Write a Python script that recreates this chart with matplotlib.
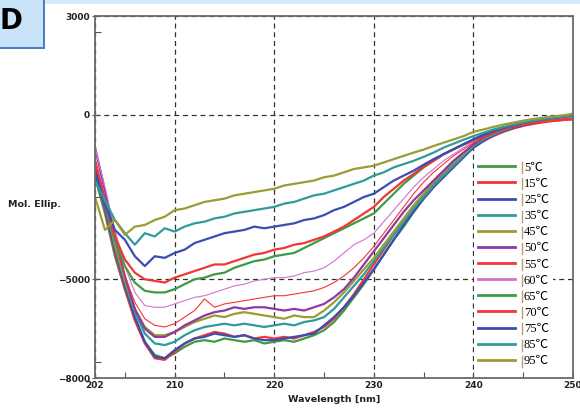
import matplotlib
matplotlib.use("Agg")
import matplotlib.pyplot as plt
from matplotlib.lines import Line2D
from matplotlib.patches import Rectangle
from matplotlib.font_manager import FontProperties
import numpy as np

wavelength = list(range(202, 251))

t5 = [-1900,-3000,-4300,-5300,-6200,-6900,-7300,-7400,-7250,-7050,-6900,-6850,-6900,-6800,-6850,-6900,-6850,-6950,-6900,-6850,-6900,-6800,-6700,-6550,-6300,-5950,-5550,-5150,-4700,-4250,-3800,-3400,-2950,-2550,-2200,-1850,-1550,-1250,-950,-750,-600,-480,-380,-300,-230,-170,-120,-80,-40]
t15 = [-1700,-2900,-4200,-5300,-6250,-6950,-7400,-7450,-7200,-6950,-6800,-6700,-6600,-6650,-6750,-6700,-6800,-6750,-6800,-6750,-6800,-6700,-6600,-6450,-6200,-5850,-5450,-5000,-4550,-4100,-3650,-3250,-2850,-2450,-2100,-1800,-1500,-1250,-1000,-800,-650,-520,-420,-340,-280,-230,-190,-160,-130]
t25 = [-1800,-2800,-4100,-5200,-6150,-6900,-7350,-7400,-7150,-6950,-6800,-6750,-6650,-6700,-6750,-6700,-6800,-6850,-6850,-6800,-6750,-6700,-6650,-6400,-6150,-5850,-5500,-5100,-4700,-4250,-3800,-3350,-2950,-2550,-2200,-1900,-1600,-1300,-1000,-800,-620,-500,-400,-320,-250,-190,-140,-100,-60]
t35 = [-1600,-2700,-4000,-5100,-6000,-6650,-6950,-7000,-6900,-6700,-6550,-6450,-6400,-6350,-6400,-6350,-6400,-6450,-6400,-6350,-6400,-6300,-6250,-6150,-5900,-5550,-5200,-4850,-4450,-4050,-3650,-3250,-2850,-2500,-2150,-1850,-1550,-1250,-950,-750,-600,-470,-370,-290,-220,-160,-110,-70,-30]
t45 = [-1500,-2600,-3900,-5000,-5900,-6450,-6700,-6700,-6600,-6450,-6300,-6200,-6100,-6150,-6050,-6000,-6050,-6100,-6150,-6200,-6100,-6150,-6150,-5950,-5700,-5400,-5050,-4700,-4350,-3950,-3550,-3150,-2750,-2400,-2050,-1750,-1450,-1200,-900,-700,-560,-440,-340,-260,-200,-150,-100,-60,-20]
t50 = [-1000,-2300,-3700,-4900,-5900,-6500,-6750,-6750,-6600,-6400,-6250,-6100,-6000,-5950,-5850,-5900,-5850,-5850,-5900,-5950,-5900,-5950,-5850,-5750,-5550,-5300,-4950,-4550,-4150,-3750,-3350,-2950,-2600,-2300,-2000,-1700,-1400,-1150,-900,-700,-550,-430,-340,-270,-210,-160,-120,-80,-50]
t55 = [-1300,-2500,-3800,-4900,-5700,-6200,-6400,-6450,-6350,-6150,-5950,-5600,-5850,-5750,-5700,-5650,-5600,-5550,-5500,-5500,-5450,-5400,-5350,-5250,-5100,-4900,-4650,-4350,-4000,-3600,-3200,-2800,-2400,-2050,-1750,-1500,-1250,-1050,-850,-700,-560,-450,-360,-290,-230,-180,-140,-110,-90]
t60 = [-1000,-2200,-3500,-4600,-5400,-5800,-5850,-5850,-5750,-5650,-5550,-5500,-5400,-5300,-5200,-5150,-5050,-5000,-4950,-4950,-4900,-4800,-4750,-4650,-4450,-4200,-3950,-3800,-3600,-3250,-2900,-2550,-2200,-1900,-1650,-1400,-1200,-1000,-800,-650,-520,-420,-340,-270,-210,-170,-130,-100,-70]
t65 = [-1600,-2700,-3800,-4600,-5100,-5350,-5400,-5400,-5300,-5150,-5000,-4950,-4850,-4800,-4650,-4550,-4450,-4400,-4300,-4250,-4200,-4050,-3900,-3750,-3600,-3450,-3300,-3150,-3000,-2700,-2400,-2100,-1850,-1600,-1400,-1200,-1050,-900,-750,-600,-500,-400,-320,-250,-200,-150,-110,-70,-30]
t70 = [-1500,-2600,-3700,-4400,-4800,-5000,-5050,-5100,-4950,-4850,-4750,-4650,-4550,-4550,-4450,-4350,-4250,-4200,-4100,-4050,-3950,-3900,-3800,-3700,-3550,-3400,-3200,-3000,-2800,-2500,-2250,-2000,-1800,-1580,-1400,-1200,-1050,-900,-780,-650,-540,-440,-360,-300,-250,-210,-180,-160,-140]
t75 = [-1700,-2700,-3500,-3800,-4300,-4600,-4300,-4350,-4200,-4100,-3900,-3800,-3700,-3600,-3550,-3500,-3400,-3450,-3400,-3350,-3300,-3200,-3150,-3050,-2900,-2800,-2650,-2500,-2400,-2200,-2000,-1850,-1700,-1520,-1350,-1200,-1050,-900,-750,-620,-500,-400,-320,-250,-190,-140,-100,-60,-20]
t85 = [-2000,-2600,-3200,-3600,-3950,-3600,-3700,-3450,-3550,-3400,-3300,-3250,-3150,-3100,-3000,-2950,-2900,-2850,-2800,-2700,-2650,-2550,-2450,-2400,-2300,-2200,-2100,-2000,-1850,-1750,-1600,-1500,-1400,-1280,-1150,-1000,-880,-760,-650,-550,-450,-370,-300,-240,-180,-130,-90,-50,-10]
t95 = [-2500,-3500,-3200,-3650,-3400,-3350,-3200,-3100,-2900,-2850,-2750,-2650,-2600,-2550,-2450,-2400,-2350,-2300,-2250,-2150,-2100,-2050,-2000,-1900,-1850,-1750,-1650,-1600,-1550,-1450,-1350,-1250,-1150,-1060,-950,-850,-750,-650,-520,-450,-370,-300,-240,-180,-130,-90,-50,-20,30]

labels = ["5℃", "15℃", "25℃", "35℃", "45℃", "50℃", "55℃", "60℃",
          "65℃", "70℃", "75℃", "85℃", "95℃"]
series = [t5, t15, t25, t35, t45, t50, t55, t60, t65, t70, t75, t85, t95]

GREEN = "#3f9a45"
RED = "#f23535"
BLUE = "#3b4db3"
TEAL = "#2f9b9b"
OLIVE = "#9c9c34"
PURPLE = "#8e3aa3"
PINK = "#d272d2"
colors = [GREEN, RED, BLUE, TEAL, OLIVE, PURPLE, RED, PINK,
          GREEN, RED, BLUE, TEAL, OLIVE]
widths = [1.6, 1.6, 1.6, 1.6, 1.6, 1.6, 0.8, 0.8, 1.6, 1.6, 1.6, 1.6, 1.6]

W, H = 580, 411
fig = plt.figure(figsize=(W / 100, H / 100), dpi=100)
fig.patch.set_facecolor("white")

# header decorations
fig.patches.append(Rectangle((43 / W, 1 - 4 / H), 1, 4 / H, transform=fig.transFigure,
                             facecolor="#d3eafa", edgecolor="none", zorder=0))
fig.patches.append(Rectangle((-0.01, 1 - 48 / H), 43.5 / W + 0.01, 48 / H + 0.01,
                             transform=fig.transFigure, facecolor="#c9e4f8",
                             edgecolor="#4a78c8", linewidth=1.4, zorder=1))
fig.text(0 / W, 1 - 29 / H, "D", fontsize=20, fontweight="bold", family="DejaVu Sans",
         ha="left", va="baseline", color="black")

ax = fig.add_axes([95 / W, 1 - 378 / H, (573 - 95) / W, (378 - 16) / H])
for s, c, lw in zip(series, colors, widths):
    ax.plot(wavelength, s, color=c, lw=lw, solid_joinstyle="round")

ax.set_xlim(202, 250)
ax.set_ylim(-8000, 3000)
ax.set_xticks([202, 210, 220, 230, 240, 250])
ax.set_xticks([205, 215, 225, 235, 245], minor=True)
ax.set_yticks([3000, 0, -5000, -8000])
ax.set_yticks([2500, -2500, -7500], minor=True)
ax.grid(True, which="major", color="#333333", linestyle=(0, (4, 3)), linewidth=0.9)

tickfont = dict(family="DejaVu Sans", weight="bold", size=6.5)
for lab in ax.get_xticklabels() + ax.get_yticklabels():
    lab.set_fontproperties(FontProperties(**tickfont))
    lab.set_color("#222222")
ax.tick_params(axis="x", which="major", direction="in", length=4, width=0.8,
               color="#555555", pad=2)
ax.tick_params(axis="x", which="minor", direction="in", length=4, width=0.8, color="#555555")
ax.tick_params(axis="y", which="major", direction="inout", length=5, width=0.8,
               color="#555555", pad=1)
ax.tick_params(axis="y", which="minor", direction="in", length=4, width=0.8, color="#555555")
for sp in ax.spines.values():
    sp.set_color("#6a6a6a")
    sp.set_linewidth(1.3)

ax.set_xlabel("Wavelength [nm]", fontproperties=FontProperties(family="DejaVu Sans",
              weight="bold", size=6.8), labelpad=4, color="#222222")
fig.text(8 / W, 1 - 204 / H, "Mol. Ellip.", fontproperties=FontProperties(
    family="DejaVu Sans", weight="bold", size=6.8), ha="left", va="center", color="#222222")

handles = [Line2D([0], [0], color=c, lw=2.0) for c in colors]
leg = ax.legend(handles, labels, loc="upper left",
                bbox_to_anchor=(474 / W, 1 - 158 / H), bbox_transform=fig.transFigure,
                prop=FontProperties(family=["Liberation Serif", "Noto Sans CJK SC"], size=9),
                frameon=True, facecolor="white", edgecolor="none", framealpha=1,
                fancybox=False, handlelength=3.0, handletextpad=0.7,
                labelspacing=0.33, borderpad=0.3, borderaxespad=0)
leg.set_zorder(5)

fig.canvas.draw()
renderer = fig.canvas.get_renderer()
for t in leg.get_texts():
    bb = t.get_window_extent(renderer)
    xb = (bb.x0 - 2) / W
    yc = (bb.y0 + bb.y1) / 2 / H
    fig.add_artist(Line2D([xb, xb], [yc - 5.5 / H, yc + 5.5 / H], transform=fig.transFigure,
                          color="#c49a6c", lw=1.0, zorder=10))

fig.savefig("out.png", dpi=100)
